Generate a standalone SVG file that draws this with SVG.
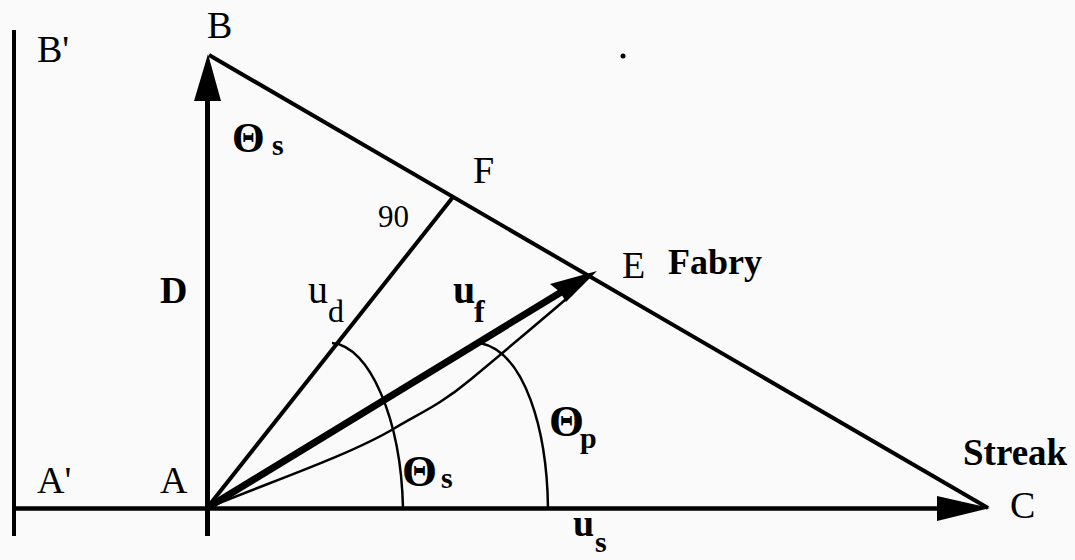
<svg xmlns="http://www.w3.org/2000/svg" width="1075" height="560" viewBox="0 0 1075 560">
<style>
text{font-family:"Liberation Serif","Times New Roman",serif;fill:#000}
.lbl{font-size:38px}
.b{font-weight:bold}
.ln{stroke:#000;fill:none;stroke-linecap:butt}
.thin{stroke:#000;fill:none;stroke-width:2.5}
.head{fill:#000;stroke:none}
</style>
<rect width="1075" height="560" fill="#fafafa"/>
<g id="connectors">
  <line class="ln" x1="14" y1="30" x2="14" y2="536" stroke-width="4"/>
  <line class="ln" x1="13" y1="508.5" x2="945" y2="508.5" stroke-width="4.5"/>
  <line class="ln" x1="207.5" y1="536" x2="207.5" y2="95" stroke-width="5"/>
  <line class="ln" x1="209" y1="55" x2="988" y2="508" stroke-width="4"/>
  <line class="ln" x1="207" y1="508" x2="453" y2="197" stroke-width="4"/>
  <line class="ln" x1="207" y1="508" x2="563" y2="291" stroke-width="7"/>
  <path class="thin" d="M207,508 C270,482 350,455 395,428 C420,413 440,405 470,380 C500,355 530,330 572,294"/>
  <path class="thin" d="M332,343 C370,346 401,420 403,508"/>
  <path class="thin" d="M480,343 C525,352 547,430 548,508"/>
  <polygon class="head" points="208,54 194,101 221,101"/>
  <polygon class="head" points="990,508 937,496 937,521"/>
  <polygon class="head" points="597,271 550,284 560,292 566,302"/>
  <circle cx="623" cy="56" r="2.5" fill="#000"/>
</g>
<g id="node-B"><text class="lbl" x="207" y="38">B</text></g>
<g id="node-Bp"><text class="lbl" x="37" y="62">B'</text></g>
<g id="node-A"><text class="lbl" x="160" y="493">A</text></g>
<g id="node-Ap"><text class="lbl" x="37" y="493">A'</text></g>
<g id="node-C"><text class="lbl" x="1010" y="518">C</text></g>
<g id="node-F"><text class="lbl" x="473" y="183">F</text></g>
<g id="node-E"><text class="lbl" x="622" y="278">E</text><text class="b" x="668" y="274" font-size="36">Fabry</text></g>
<g id="label-streak"><text class="b" x="963" y="465" font-size="37">Streak</text></g>
<g id="label-90"><text x="378" y="227" font-size="31">90</text></g>
<g id="label-D"><text class="lbl b" x="160" y="303">D</text></g>
<g id="label-theta-s-top"><text class="b" x="232" y="152" font-size="42">Θ</text><text class="b" x="272" y="155" font-size="30">s</text></g>
<g id="label-ud"><text x="308" y="303" font-size="40">u</text><text x="328" y="322" font-size="32">d</text></g>
<g id="label-uf"><text class="b" x="453" y="303" font-size="40">u</text><text class="b" x="474" y="322" font-size="32">f</text></g>
<g id="label-theta-s"><text class="b" x="402" y="486" font-size="45">Θ</text><text class="b" x="441" y="488" font-size="30">s</text></g>
<g id="label-theta-p"><text class="b" x="549" y="436" font-size="45">Θ</text><text class="b" x="580" y="448" font-size="30">p</text></g>
<g id="label-us"><text class="b" x="573" y="536" font-size="38">u</text><text class="b" x="595" y="552" font-size="30">s</text></g>
</svg>
